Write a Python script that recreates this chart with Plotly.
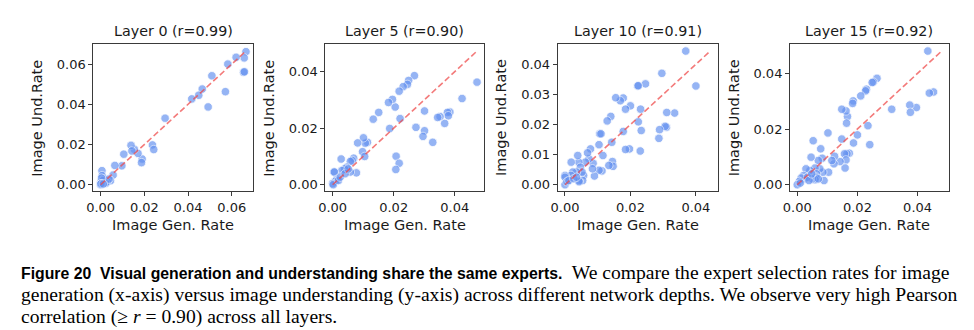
import numpy as np
import plotly.graph_objects as go
from plotly.subplots import make_subplots

# ---------------- data ----------------
layer_titles = ["Layer 0 (r=0.99)", "Layer 5 (r=0.90)", "Layer 10 (r=0.91)", "Layer 15 (r=0.92)"]

l0_gen = [0.0665, 0.0657, 0.0654, 0.0658, 0.0620, 0.0582, 0.0571, 0.0509, 0.0492, 0.0465,
          0.0449, 0.0417, 0.0295, 0.0237, 0.0243, 0.0190, 0.0187, 0.0171, 0.0154, 0.0139,
          0.0143, 0.0106, 0.0097, 0.0065, 0.0057, 0.0045, 0.0030, 0.0006, 0.0007, 0.0015,
          0.0003, 0.0000, 0.0001, 0.0023, 0.0010, 0.0038, 0.0004, 0.0000, 0.0002, 0.0012]
l0_und = [0.0662, 0.0631, 0.0559, 0.0562, 0.0634, 0.0600, 0.0463, 0.0542, 0.0387, 0.0476,
          0.0445, 0.0427, 0.0331, 0.0198, 0.0175, 0.0128, 0.0110, 0.0156, 0.0176, 0.0196,
          0.0168, 0.0152, 0.0094, 0.0096, 0.0048, 0.0020, 0.0015, 0.0070, 0.0045, 0.0028,
          0.0002, 0.0000, 0.0012, 0.0008, 0.0020, 0.0028, 0.0033, 0.0003, 0.0005, 0.0004]

l5_gen = [0.0473, 0.0424, 0.0384, 0.0376, 0.0379, 0.0367, 0.0352, 0.0344, 0.0328, 0.0301,
          0.0301, 0.0296, 0.0273, 0.0268, 0.0249, 0.0245, 0.0231, 0.0218, 0.0221, 0.0205,
          0.0196, 0.0183, 0.0187, 0.0208, 0.0218, 0.0207, 0.0151, 0.0133, 0.0114, 0.0107,
          0.0101, 0.0098, 0.0105, 0.0082, 0.0078, 0.0069, 0.0064, 0.0058, 0.0058, 0.0046,
          0.0039, 0.0028, 0.0030, 0.0004, 0.0006, 0.0014, 0.0009, 0.0000, 0.0002, 0.0019,
          0.0025, 0.0041, 0.0051]
l5_und = [0.0363, 0.0305, 0.0257, 0.0256, 0.0244, 0.0217, 0.0241, 0.0238, 0.0150, 0.0261,
          0.0191, 0.0171, 0.0203, 0.0386, 0.0369, 0.0355, 0.0347, 0.0331, 0.0234, 0.0275,
          0.0302, 0.0291, 0.0199, 0.0101, 0.0076, 0.0054, 0.0256, 0.0232, 0.0150, 0.0147,
          0.0166, 0.0117, 0.0100, 0.0148, 0.0042, 0.0094, 0.0086, 0.0082, 0.0045, 0.0062,
          0.0056, 0.0091, 0.0050, 0.0045, 0.0045, 0.0019, 0.0012, 0.0004, 0.0000, 0.0015,
          0.0027, 0.0039, 0.0056]

l10_gen = [0.0369, 0.0400, 0.0296, 0.0246, 0.0222, 0.0224, 0.0335, 0.0311, 0.0310, 0.0306,
           0.0289, 0.0287, 0.0231, 0.0233, 0.0224, 0.0230, 0.0200, 0.0185, 0.0178, 0.0169,
           0.0155, 0.0197, 0.0185, 0.0178, 0.0140, 0.0129, 0.0143, 0.0106, 0.0110, 0.0104,
           0.0145, 0.0147, 0.0134, 0.0116, 0.0113, 0.0104, 0.0090, 0.0086, 0.0078, 0.0073,
           0.0069, 0.0062, 0.0084, 0.0057, 0.0054, 0.0043, 0.0043, 0.0042, 0.0039, 0.0047,
           0.0052, 0.0035, 0.0019, 0.0024, 0.0018, 0.0000, 0.0000, 0.0000, 0.0006, 0.0012,
           0.0027, 0.0035]
l10_und = [0.0444, 0.0328, 0.0370, 0.0335, 0.0328, 0.0329, 0.0238, 0.0240, 0.0191, 0.0194,
           0.0183, 0.0154, 0.0251, 0.0180, 0.0209, 0.0112, 0.0262, 0.0251, 0.0288, 0.0279,
           0.0289, 0.0119, 0.0117, 0.0177, 0.0227, 0.0212, 0.0141, 0.0169, 0.0169, 0.0133,
           0.0077, 0.0061, 0.0064, 0.0097, 0.0046, 0.0048, 0.0029, 0.0071, 0.0119, 0.0086,
           0.0106, 0.0075, 0.0053, 0.0031, 0.0014, 0.0014, 0.0010, 0.0075, 0.0097, 0.0058,
           0.0042, 0.0042, 0.0075, 0.0042, 0.0031, 0.0031, 0.0025, 0.0000, 0.0010, 0.0014,
           0.0020, 0.0025]

l15_gen = [0.0434, 0.0453, 0.0439, 0.0396, 0.0374, 0.0376, 0.0314, 0.0265, 0.0253, 0.0249,
           0.0230, 0.0227, 0.0211, 0.0186, 0.0184, 0.0235, 0.0241, 0.0200, 0.0187, 0.0167,
           0.0164, 0.0162, 0.0148, 0.0148, 0.0173, 0.0165, 0.0157, 0.0162, 0.0159, 0.0142,
           0.0124, 0.0122, 0.0115, 0.0102, 0.0104, 0.0089, 0.0078, 0.0083, 0.0085, 0.0070,
           0.0075, 0.0053, 0.0046, 0.0059, 0.0064, 0.0062, 0.0059, 0.0050, 0.0042, 0.0029,
           0.0021, 0.0024, 0.0013, 0.0007, 0.0000, 0.0010, 0.0034, 0.0039, 0.0048, 0.0070]
l15_und = [0.0480, 0.0333, 0.0329, 0.0277, 0.0286, 0.0260, 0.0271, 0.0382, 0.0369, 0.0367,
           0.0343, 0.0337, 0.0319, 0.0301, 0.0292, 0.0212, 0.0144, 0.0179, 0.0150, 0.0245,
           0.0221, 0.0265, 0.0271, 0.0164, 0.0113, 0.0111, 0.0111, 0.0089, 0.0060, 0.0083,
           0.0102, 0.0075, 0.0087, 0.0186, 0.0045, 0.0015, 0.0129, 0.0095, 0.0045, 0.0087,
           0.0057, 0.0158, 0.0099, 0.0060, 0.0039, 0.0027, 0.0018, 0.0021, 0.0051, 0.0057,
           0.0033, 0.0021, 0.0024, 0.0012, 0.0000, 0.0006, 0.0027, 0.0015, 0.0039, 0.0021]

gen_data = [l0_gen, l5_gen, l10_gen, l15_gen]
und_data = [l0_und, l5_und, l10_und, l15_und]
y_dticks = [0.02, 0.02, 0.01, 0.02]

x_label = "Image Gen. Rate"
y_label = "Image Und.Rate"
caption_bold = "Figure 20  Visual generation and understanding share the same experts."
caption_lines = [
    "We compare the expert selection rates for image",
    "generation (x-axis) versus image understanding (y-axis) across different network depths. We observe very high Pearson",
    "correlation (≥ <i>r</i> = 0.90) across all layers.",
]

# ---------------- layout geometry ----------------
W, H = 974, 330
x_doms_px = [(87, 248), (320.7, 480.7), (554.7, 715.7), (788.7, 948.7)]
y_dom_px = (44.5, 192)  # top, bottom in px from top

fig = make_subplots(rows=1, cols=4)
font_fam = "DejaVu Sans"
txt_col = "#1a1a1a"
pt_color = "rgb(100,145,240)"
line_color = "rgba(238,70,70,0.72)"

for i in range(4):
    g = np.array(gen_data[i])
    u = np.array(und_data[i])
    lo = min(g.min(), u.min())
    hi = max(g.max(), u.max())
    fig.add_trace(go.Scatter(x=g, y=u, mode="markers",
                             marker=dict(size=8.5, color=pt_color, opacity=0.68,
                                         line=dict(color="white", width=0.8)),
                             showlegend=False), row=1, col=i + 1)
    fig.add_trace(go.Scatter(x=[lo, hi], y=[lo, hi], mode="lines",
                             line=dict(color=line_color, width=1.6, dash="6px,3px"),
                             showlegend=False), row=1, col=i + 1)
    xmin, xmax = min(g.min(), lo), max(g.max(), hi)
    ymin, ymax = min(u.min(), lo), max(u.max(), hi)
    px_ = 0.05 * (xmax - xmin)
    py_ = 0.05 * (ymax - ymin)
    ax = "" if i == 0 else str(i + 1)
    x0, x1 = x_doms_px[i]
    fig.update_layout(**{
        f"xaxis{ax}": dict(domain=[x0 / W, x1 / W], range=[xmin - px_, xmax + px_],
                           dtick=0.02, tick0=0, tickformat=".2f",
                           showgrid=False, zeroline=False, showline=True, mirror=True,
                           linecolor="#3a3a3a", linewidth=1, ticks="outside", ticklen=4,
                           tickcolor="#3a3a3a", tickwidth=1,
                           tickfont=dict(family=font_fam, size=13, color=txt_col)),
        f"yaxis{ax}": dict(domain=[(H - y_dom_px[1]) / H, (H - y_dom_px[0]) / H],
                           range=[ymin - py_, ymax + py_],
                           dtick=y_dticks[i], tick0=0, tickformat=".2f",
                           showgrid=False, zeroline=False, showline=True, mirror=True,
                           linecolor="#3a3a3a", linewidth=1, ticks="outside", ticklen=4,
                           tickcolor="#3a3a3a", tickwidth=1,
                           tickfont=dict(family=font_fam, size=13, color=txt_col)),
    })
    cx = (x0 + x1) / 2 / W
    cy = (H - (y_dom_px[0] + y_dom_px[1]) / 2) / H
    # title
    fig.add_annotation(x=cx, y=(H - 31.5) / H, xref="paper", yref="paper",
                       text=layer_titles[i], showarrow=False, xanchor="center", yanchor="middle",
                       font=dict(family=font_fam, size=14.3, color=txt_col))
    # x label
    fig.add_annotation(x=cx, y=(H - 226) / H, xref="paper", yref="paper",
                       text=x_label, showarrow=False, xanchor="center", yanchor="middle",
                       font=dict(family=font_fam, size=14.5, color=txt_col))
    # y label
    fig.add_annotation(x=(x0 - 57) / W, y=cy, xref="paper", yref="paper",
                       text=y_label, showarrow=False, xanchor="center", yanchor="middle",
                       textangle=-90,
                       font=dict(family=font_fam, size=14.5, color=txt_col))

# caption
serif = "Liberation Serif"
line1 = (f'<span style="font-family:Liberation Sans;font-weight:bold;font-size:15.8px">{caption_bold}</span>'
         f'  {caption_lines[0]}')
cap_y = [273, 296, 318]
texts = [line1, caption_lines[1], caption_lines[2]]
for t, yy in zip(texts, cap_y):
    fig.add_annotation(x=12 / W, y=(H - yy) / H, xref="paper", yref="paper",
                       text=t, showarrow=False, xanchor="left", yanchor="middle",
                       font=dict(family=serif, size=19.6, color="black"))

fig.update_layout(width=W, height=H, margin=dict(l=0, r=0, t=0, b=0),
                  paper_bgcolor="white", plot_bgcolor="white")

fig.write_html("out.html")
